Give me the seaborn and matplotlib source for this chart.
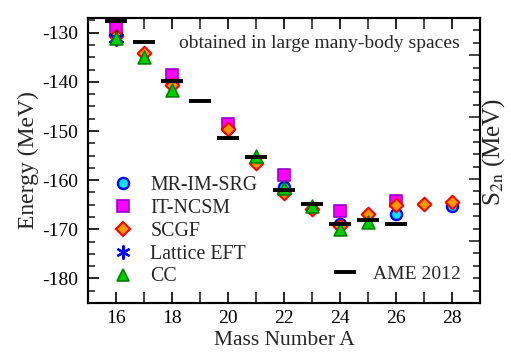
import matplotlib
matplotlib.use("Agg")
import matplotlib.pyplot as plt
from matplotlib.ticker import MultipleLocator
from matplotlib.lines import Line2D
import seaborn as sns
import pandas as pd

# ---- data ----
ame_A = [16, 17, 18, 19, 20, 21, 22, 23, 24, 25, 26]
ame_E = [-127.6, -131.8, -139.8, -143.8, -151.4, -155.2, -162.0, -164.8, -169.0, -168.2, -168.9]

imsrg_A = [16, 18, 20, 22, 24, 26, 28]
imsrg_E = [-130.3, -140.2, -149.4, -161.3, -169.0, -166.9, -165.3]

ncsm_A = [16, 18, 20, 22, 24, 26]
ncsm_E = [-129.0, -138.7, -148.5, -158.9, -166.3, -164.3]

scgf_A = [16, 17, 18, 20, 21, 22, 23, 24, 25, 26, 27, 28]
scgf_E = [-130.6, -134.1, -140.6, -149.6, -156.5, -162.7, -165.8, -169.4, -166.9, -165.0, -164.8, -164.5]

lat_A = [16]
lat_E = [-131.1]

cc_A = [16, 17, 18, 21, 22, 23, 24, 25]
cc_E = [-131.0, -134.9, -141.6, -155.0, -161.6, -165.3, -169.9, -168.6]

labels = ["MR-IM-SRG", "IT-NCSM", "SCGF", "Lattice EFT", "CC"]

sns.set_theme(style="ticks")
plt.rcParams["font.family"] = ["Liberation Serif", "DejaVu Serif"]
plt.rcParams["mathtext.fontset"] = "stix"
plt.rcParams["axes.unicode_minus"] = False

fig = plt.figure(figsize=(5.11, 3.58), dpi=100)
W, H = 511, 358
ax = fig.add_axes([88 / W, (H - 303) / H, (480 - 88) / W, (303 - 18) / H])

def df(a, e):
    return pd.DataFrame({"A": a, "E": e})

sns.scatterplot(data=df(imsrg_A, imsrg_E), x="A", y="E", ax=ax, marker="o", s=64,
                color="#00e5ff", edgecolor="#0000ff", linewidth=1.7, zorder=3)
sns.scatterplot(data=df(ncsm_A, ncsm_E), x="A", y="E", ax=ax, marker="s", s=64,
                color="#ff00ff", edgecolor="#9a00c8", linewidth=1.2, zorder=4)
sns.scatterplot(data=df(scgf_A, scgf_E), x="A", y="E", ax=ax, marker="D", s=48,
                color="#ff9900", edgecolor="#ff0000", linewidth=1.5, zorder=5)
sns.scatterplot(data=df(lat_A, lat_E), x="A", y="E", ax=ax, marker=(6, 2, 0), s=110,
                color="#0000ff", edgecolor="#0000ff", linewidth=1.6, zorder=6)
sns.scatterplot(data=df(cc_A, cc_E), x="A", y="E", ax=ax, marker="^", s=85,
                color="#00cc00", edgecolor="#008000", linewidth=1.2, zorder=7)
sns.scatterplot(data=df(ame_A, ame_E), x="A", y="E", ax=ax, marker="_", s=260,
                color="black", linewidth=2.8, zorder=8)

ax.set_xlim(15, 29)
ax.set_ylim(-185, -127)
ax.xaxis.set_major_locator(MultipleLocator(2))
ax.xaxis.set_minor_locator(MultipleLocator(1))
ax.yaxis.set_major_locator(MultipleLocator(10))
ax.yaxis.set_minor_locator(MultipleLocator(2.5))
ax.tick_params(axis="x", which="both", direction="in", top=True, length=8, width=1.2,
               labelsize=14, pad=5)
ax.tick_params(axis="y", which="major", direction="in", length=8, width=1.2, labelsize=14, pad=7)
ax.tick_params(axis="y", which="minor", direction="in", length=5, width=1.2)
ax.tick_params(axis="y", which="both", right=False)
for sp in ax.spines.values():
    sp.set_linewidth(1.5)
    sp.set_color("black")
ax.set_xlabel("Mass Number A", fontsize=15.5, labelpad=3)
ax.set_ylabel("Energy (MeV)", fontsize=17, labelpad=2)
ax.tick_params(colors="black")

ax2 = ax.twinx()
ax2.set_ylim(0, 23)
ax2.yaxis.set_major_locator(MultipleLocator(5))
ax2.yaxis.set_minor_locator(MultipleLocator(1))
ax2.tick_params(axis="y", which="major", direction="in", length=8, width=1.2, labelright=False)
ax2.tick_params(axis="y", which="minor", direction="in", length=5, width=1.2)
for sp in ax2.spines.values():
    sp.set_linewidth(1.5)
    sp.set_color("black")
fig.text(494 / W, 1 - 152 / H, "S$_{\\mathrm{2n}}$ (MeV)", rotation=90, ha="center", va="center",
         fontsize=18)

ax.text(0.949, 0.91, "obtained in large many-body spaces", transform=ax.transAxes,
        ha="right", va="center", fontsize=14)

handles = [
    Line2D([], [], ls="", marker="o", ms=8, mfc="#00e5ff", mec="#0000ff", mew=1.7),
    Line2D([], [], ls="", marker="s", ms=8, mfc="#ff00ff", mec="#9a00c8", mew=1.2),
    Line2D([], [], ls="", marker="D", ms=7, mfc="#ff9900", mec="#ff0000", mew=1.5),
    Line2D([], [], ls="", marker=(6, 2, 0), ms=10, mfc="#0000ff", mec="#0000ff", mew=1.6),
    Line2D([], [], ls="", marker="^", ms=9, mfc="#00cc00", mec="#008000", mew=1.2),
]
leg1 = ax2.legend(handles, labels, loc="lower left", bbox_to_anchor=(0.06, 0.058),
                  frameon=False, fontsize=14.3, handlelength=1.2, handletextpad=0.75,
                  labelspacing=0.19, borderpad=0, borderaxespad=0)
ax2.add_artist(leg1)
h2 = [Line2D([], [], ls="", marker="_", ms=16, mew=2.8, color="black")]
ax2.legend(h2, ["AME 2012"], loc="lower right", bbox_to_anchor=(0.95, 0.07),
           frameon=False, fontsize=14, handlelength=1.2, handletextpad=0.8,
           borderpad=0, borderaxespad=0)

fig.savefig("out.png", dpi=100)
